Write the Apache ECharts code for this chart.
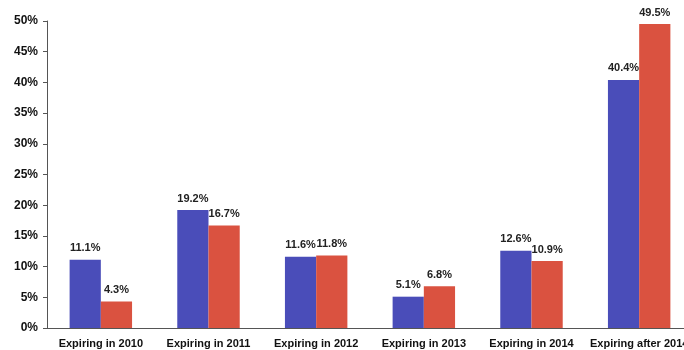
<!DOCTYPE html>
<html><head><meta charset="utf-8">
<script src="https://cdn.jsdelivr.net/npm/echarts@6/dist/echarts.min.js"></script>
<style>html,body{margin:0;padding:0;background:#fff;overflow:hidden}#c{width:700px;height:350px}</style>
</head><body><div id="c"></div>
<script>
var categories = ["Expiring in 2010","Expiring in 2011","Expiring in 2012","Expiring in 2013","Expiring in 2014","Expiring after 2014"];
var seriesBlue = [11.1, 19.2, 11.6, 5.1, 12.6, 40.4];
var seriesRed = [4.3, 16.7, 11.8, 6.8, 10.9, 49.5];
var chart = echarts.init(document.getElementById('c'));
var lbl = {show:true, position:'top', distance:6, color:'#222', fontFamily:'"Liberation Sans Narrow","Liberation Sans",Arial,sans-serif', fontWeight:'bold', fontSize:11, formatter:function(p){return p.value.toFixed(1)+'%';}};
chart.setOption({
  animation:false,
  backgroundColor:'#fff',
  grid:{left:47, top:21, right:7, bottom:22, containLabel:false},
  xAxis:{type:'category', data:categories,
    axisLine:{lineStyle:{color:'#555', width:1}},
    axisTick:{show:false},
    axisLabel:{color:'#111', fontFamily:'"Liberation Sans",Arial,sans-serif', fontWeight:'bold', fontSize:11, margin:10, interval:0}},
  yAxis:{type:'value', min:0, max:50, interval:5,
    splitLine:{show:false},
    axisLine:{show:true, lineStyle:{color:'#555', width:1}},
    axisTick:{show:true, length:4, lineStyle:{color:'#555'}},
    axisLabel:{color:'#111', fontFamily:'"Liberation Sans",Arial,sans-serif', fontWeight:'bold', fontSize:12, margin:9, formatter:'{value}%'}},
  series:[
    {type:'bar', data:seriesBlue, barGap:'0%', barCategoryGap:'42%', itemStyle:{color:'#4a4db9'}, label:lbl},
    {type:'bar', data:seriesRed, barGap:'0%', barCategoryGap:'42%', itemStyle:{color:'#da5240'}, label:lbl}
  ]
});
</script></body></html>
